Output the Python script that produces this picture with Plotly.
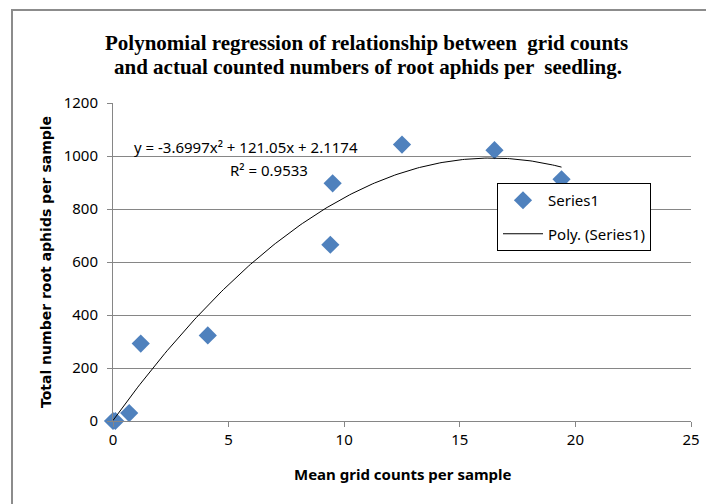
import numpy as np
import plotly.graph_objects as go

# Data
x_vals = [0.0, 0.1, 0.7, 1.2, 4.1, 9.4, 9.5, 12.5, 16.5, 19.4]
y_vals = [0, 0, 30, 292, 323, 665, 897, 1043, 1022, 912]

# Trendline coefficients as shown on the chart
coef_a, coef_b, coef_c = -3.6997, 121.05, 2.1174
x_ticks = [0, 5, 10, 15, 20, 25]
y_ticks = [0, 200, 400, 600, 800, 1000, 1200]

xs = np.linspace(min(x_vals), max(x_vals), 200)
ys = coef_a * xs**2 + coef_b * xs + coef_c

font_sans = "Liberation Sans Narrow, Noto Sans, sans-serif"

# helpers: screen pixel -> paper coords (plot area 113..691 x, 103..421 y on screen)
def px(x):
    return (x - 113) / 578

def py(y):
    return (421 - y) / 318

fig = go.Figure()
fig.add_trace(go.Scatter(
    x=x_vals, y=y_vals, mode="markers", name="Series1",
    marker=dict(symbol="diamond", size=14, color="#4F81BD", line=dict(width=0)),
    cliponaxis=False, legendgroup="a",
))
fig.add_trace(go.Scatter(
    x=xs, y=ys, mode="lines", name="Poly. (Series1)",
    line=dict(color="black", width=1), legendgroup="b",
))

# The page body adds an 8px offset, so margins are shifted by 8
fig.update_layout(
    width=714, height=504,
    paper_bgcolor="white", plot_bgcolor="white",
    margin=dict(l=105, r=31, t=95, b=91, autoexpand=False),
    xaxis=dict(
        range=[0, 25], tickvals=x_ticks, showgrid=False, zeroline=False,
        showline=True, linecolor="#868686", linewidth=1,
        ticks="outside", ticklen=5, tickcolor="#868686",
        tickfont=dict(family=font_sans, size=15, color="black"),
    ),
    yaxis=dict(
        range=[0, 1200], tickvals=y_ticks, showgrid=True, gridcolor="#868686",
        gridwidth=1, zeroline=False,
        showline=True, linecolor="#868686", linewidth=1,
        ticks="outside", ticklen=5, tickcolor="#868686",
        ticklabelstandoff=6,
        tickfont=dict(family=font_sans, size=15, color="black"),
    ),
    legend=dict(
        x=px(497), y=py(183), xanchor="left", yanchor="top",
        bordercolor="black", borderwidth=1, bgcolor="white",
        font=dict(family=font_sans, size=15, color="black"),
        tracegroupgap=11, itemwidth=40, traceorder="grouped",
    ),
    showlegend=True,
)

title_font = dict(family="Liberation Serif, serif", size=21, color="black", weight="bold")
fig.add_annotation(text="Polynomial regression of relationship between  grid counts",
                   xref="paper", yref="paper", x=px(366), y=py(43), showarrow=False,
                   font=title_font, xanchor="center", yanchor="middle")
fig.add_annotation(text="and actual counted numbers of root aphids per  seedling.",
                   xref="paper", yref="paper", x=px(368), y=py(67), showarrow=False,
                   font=title_font, xanchor="center", yanchor="middle")

fig.add_annotation(text="<b>Mean grid counts per sample</b>", xref="paper", yref="paper",
                   x=px(402), y=py(474), showarrow=False,
                   font=dict(family=font_sans, size=15, color="black"),
                   xanchor="center", yanchor="middle")
fig.add_annotation(text="<b>Total number root aphids per sample</b>", xref="paper", yref="paper",
                   x=px(46), y=py(262), showarrow=False, textangle=-90,
                   font=dict(family="DejaVu Sans, sans-serif", size=14, color="black"),
                   xanchor="center", yanchor="middle")

fig.add_annotation(
    text="y = -3.6997x² + 121.05x + 2.1174", xref="paper", yref="paper",
    x=px(246), y=py(147), showarrow=False,
    font=dict(family=font_sans, size=15, color="black"),
    xanchor="center", yanchor="middle",
)
fig.add_annotation(
    text="R² = 0.9533", xref="paper", yref="paper",
    x=px(269), y=py(170), showarrow=False,
    font=dict(family=font_sans, size=15, color="black"),
    xanchor="center", yanchor="middle",
)

# Outer chart border
fig.add_shape(type="rect", xref="paper", yref="paper",
              x0=px(12), x1=px(730), y0=py(520), y1=py(10),
              line=dict(color="#8c8c8c", width=2), layer="below")

fig.write_html("out.html")
